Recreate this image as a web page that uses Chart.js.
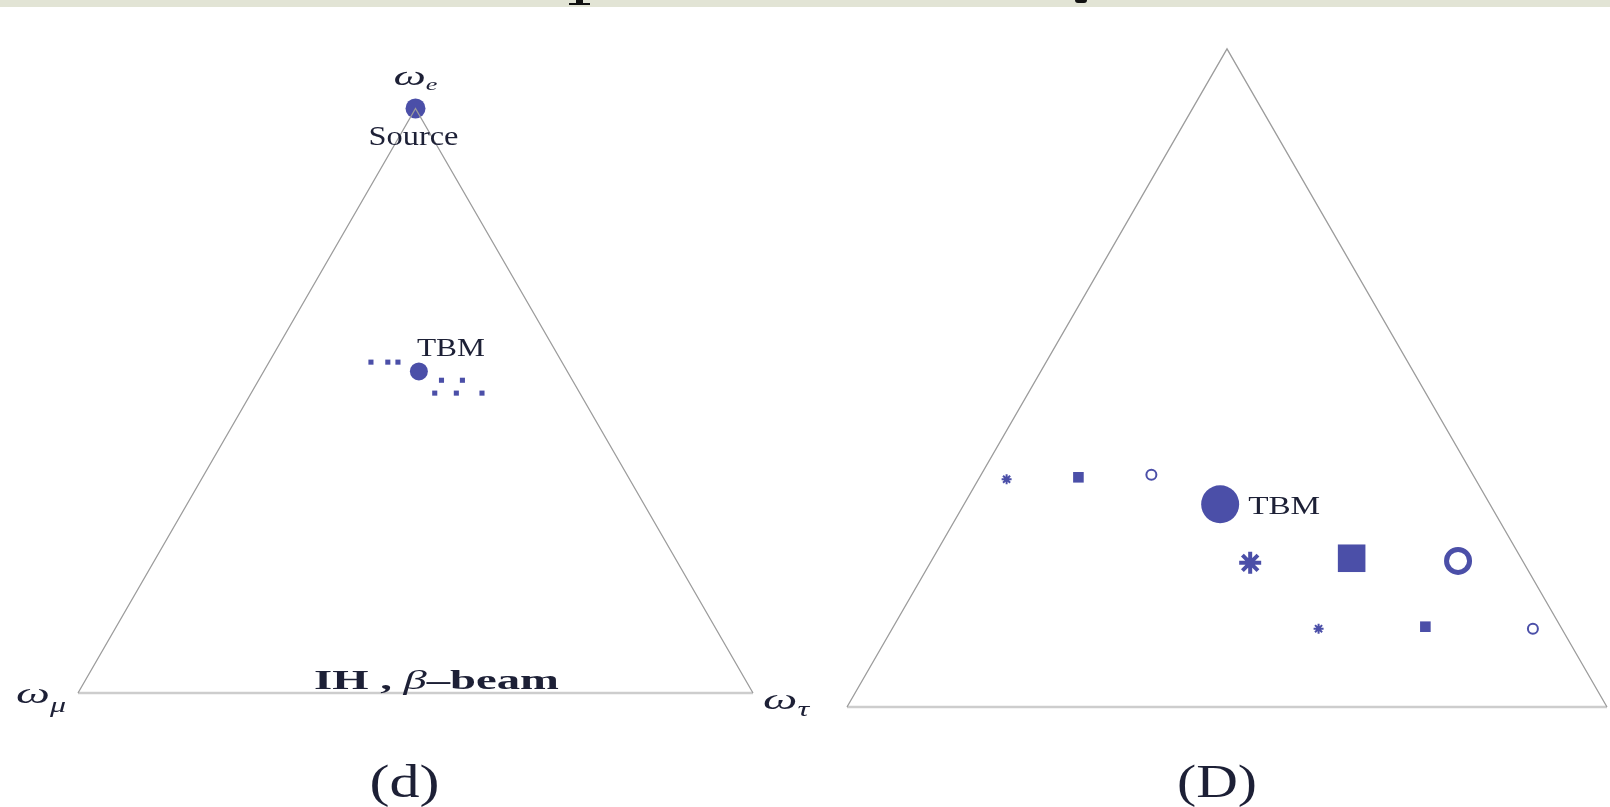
<!DOCTYPE html>
<html>
<head>
<meta charset="utf-8">
<script src="https://cdn.jsdelivr.net/npm/chart.js@4.4.1/dist/chart.umd.min.js"></script>
<style>
    html, body { margin: 0; padding: 0; background: #fff; }
    body { width: 1610px; height: 807px; position: relative; overflow: hidden; }
    canvas { position: absolute; top: 0; }
    #band { position: absolute; left: 0; top: 0; width: 1610px; height: 7px; background: #e2e4d5; z-index: 2; overflow: hidden; }
    .frag { position: absolute; background: #111; }
</style>
</head>
<body>
<div id="band">
    <div class="frag" style="left:576px;top:0;width:7px;height:3px"></div>
    <div class="frag" style="left:569px;top:3px;width:21px;height:2px"></div>
    <div class="frag" style="left:1075px;top:0;width:12px;height:3px;border-radius:0 0 6px 6px"></div>
</div>
<canvas id="chartLeft" width="830" height="807" style="left:0"></canvas>
<canvas id="chartRight" width="780" height="807" style="left:830px"></canvas>
<script>
/**
 * Flavour triangles — omega_e at the top vertex, omega_mu bottom left,
 * omega_tau bottom right. Values are (omega_e, omega_tau); omega_mu = 1 - e - tau.
 */

// panel (d): IH, beta-beam
const dSourceE = [1.0],   dSourceTau = [0.0];
const dTbmE    = [0.55],  dTbmTau    = [0.23];
const dUpperE  = [0.566, 0.566, 0.566], dUpperTau = [0.151, 0.176, 0.191];
const dMidE    = [0.535, 0.535],        dMidTau   = [0.271, 0.302];
const dLowE    = [0.513, 0.513, 0.513], dLowTau   = [0.272, 0.304, 0.342];

// panel (D)
const DTbmE   = [0.308], DTbmTau = [0.337];
const DUpperE = [0.346, 0.349, 0.353], DUpperTau = [0.037, 0.130, 0.224];
const DMidE   = [0.219, 0.226, 0.222], DMidTau   = [0.421, 0.551, 0.693];
const DLowE   = [0.119, 0.122, 0.119], DLowTau   = [0.561, 0.700, 0.843];

// triangle vertices: mu, e, tau
const sideE = [0, 1, 0], sideTau = [0, 0, 1];
const baseE = [0, 0],    baseTau = [0, 1];

const BLUE = '#4b4fa8';
const INK = '#1d2036';
const SERIF = '"Liberation Serif", "DejaVu Serif", serif';

const toXY = (e, tau) => e.map((v, i) => ({ x: tau[i] + v / 2, y: v }));

const triangleSets = () => [
    { data: toXY(sideE, sideTau), showLine: true, borderColor: '#9c9c9c', borderWidth: 1.3, pointRadius: 0, fill: false },
    { data: toXY(baseE, baseTau), showLine: true, borderColor: '#cdcdcd', borderWidth: 2.6, pointRadius: 0, fill: false }
];

// draw a run of text pieces, optionally squeezed/stretched to a given width
function drawRich(ctx, parts, x, y, align, fitW) {
    let w = 0;
    parts.forEach(p => { ctx.font = p.font; p.w = ctx.measureText(p.t).width; w += p.w; });
    const sx = fitW ? fitW / w : 1;
    const total = w * sx;
    let cx = align === 'center' ? x - total / 2 : x;
    ctx.save();
    ctx.fillStyle = INK;
    ctx.textBaseline = 'alphabetic';
    ctx.textAlign = 'left';
    parts.forEach(p => {
        ctx.save();
        ctx.font = p.font;
        ctx.translate(cx, y + (p.dy || 0));
        ctx.scale(sx, 1);
        ctx.fillText(p.t, 0, 0);
        ctx.restore();
        cx += p.w * sx;
    });
    ctx.restore();
}

function makePanel(id, geo, datasets, labels) {
    const W = geo.x1 - geo.x0;
    const H = W * Math.sqrt(3) / 2;
    const ox = geo.x0 - geo.left;
    const labelPlugin = {
        id: 'labels',
        afterDatasetsDraw(chart) {
            const { ctx, scales: { x, y } } = chart;
            const px = (e, tau) => [x.getPixelForValue(tau + e / 2), y.getPixelForValue(e)];
            labels.forEach(l => {
                const [ax, ay] = px(l.at[0], l.at[1]);
                drawRich(ctx, l.parts, ax + l.dx, ay + l.dy, l.align, l.fitW);
            });
        }
    };
    return new Chart(document.getElementById(id), {
        type: 'scatter',
        data: { datasets },
        options: {
            responsive: false, animation: false, events: [],
            layout: { padding: 0, autoPadding: false },
            plugins: { legend: { display: false }, tooltip: { enabled: false } },
            scales: {
                x: { type: 'linear', display: false, min: -ox / W, max: (geo.width - ox) / W },
                y: { type: 'linear', display: false, min: (geo.yb - 807) / H, max: geo.yb / H }
            }
        },
        plugins: [labelPlugin]
    });
}

const omega = (sub, size, subSize, dy) => [
    { t: 'ω', font: `italic ${size}px ${SERIF}` },
    { t: sub, font: `italic ${subSize}px ${SERIF}`, dy }
];

// Left panel (d)
makePanel('chartLeft', { left: 0, width: 830, x0: 78, x1: 753, yb: 693 }, [
    ...triangleSets(),
    { data: toXY(dSourceE, dSourceTau), pointStyle: 'circle', pointRadius: 10, backgroundColor: BLUE, borderWidth: 0 },
    { data: toXY(dTbmE, dTbmTau), pointStyle: 'circle', pointRadius: 9, backgroundColor: BLUE, borderWidth: 0 },
    { data: toXY(dUpperE, dUpperTau), pointStyle: 'rect', pointRadius: 3.6, backgroundColor: BLUE, borderWidth: 0 },
    { data: toXY(dMidE, dMidTau), pointStyle: 'rect', pointRadius: 3.6, backgroundColor: BLUE, borderWidth: 0 },
    { data: toXY(dLowE, dLowTau), pointStyle: 'rect', pointRadius: 3.6, backgroundColor: BLUE, borderWidth: 0 }
], [
    { at: [1, 0], dx: -22, dy: -23, align: 'left', fitW: 44, parts: omega('e', 28, 16, 5) },
    { at: [1, 0], dx: -2, dy: 37, align: 'center', fitW: 90, parts: [{ t: 'Source', font: `27px ${SERIF}` }] },
    { at: [dTbmE[0], dTbmTau[0]], dx: -2, dy: -15, align: 'left', fitW: 68, parts: [{ t: 'TBM', font: `26px ${SERIF}` }] },
    { at: [0, 0], dx: -62, dy: 10, align: 'left', fitW: 50, parts: omega('μ', 30, 20, 9) },
    { at: [0, 1], dx: 10, dy: 16, align: 'left', fitW: 46, parts: omega('τ', 30, 20, 7) },
    { at: [0, 0.5], dx: 21, dy: -4, align: 'center', fitW: 245, parts: [
        { t: 'IH , ', font: `bold 28px ${SERIF}` },
        { t: 'β', font: `italic 28px ${SERIF}` },
        { t: '–beam', font: `bold 28px ${SERIF}` }
    ] },
    { at: [0, 0.5], dx: -11, dy: 104, align: 'center', fitW: 70, parts: [{ t: '(d)', font: `46px ${SERIF}` }] }
]);

// Right panel (D)
const rowStyle = big => ({
    pointStyle: ['star', 'rect', 'circle'],
    pointRadius: big ? [11, 19.5, 11.5] : [5, 7.5, 5],
    borderWidth: big ? [4, 0, 5] : [2, 0, 2],
    backgroundColor: [BLUE, BLUE, '#ffffff'],
    borderColor: BLUE
});

makePanel('chartRight', { left: 830, width: 780, x0: 847, x1: 1607, yb: 707 }, [
    ...triangleSets(),
    { data: toXY(DTbmE, DTbmTau), pointStyle: 'circle', pointRadius: 19, backgroundColor: BLUE, borderWidth: 0 },
    { data: toXY(DUpperE, DUpperTau), ...rowStyle(false) },
    { data: toXY(DMidE, DMidTau), ...rowStyle(true) },
    { data: toXY(DLowE, DLowTau), ...rowStyle(false) }
], [
    { at: [DTbmE[0], DTbmTau[0]], dx: 28, dy: 10, align: 'left', fitW: 72, parts: [{ t: 'TBM', font: `26px ${SERIF}` }] },
    { at: [0, 0.5], dx: -10, dy: 90, align: 'center', fitW: 80, parts: [{ t: '(D)', font: `46px ${SERIF}` }] }
]);
</script>
</body>
</html>
